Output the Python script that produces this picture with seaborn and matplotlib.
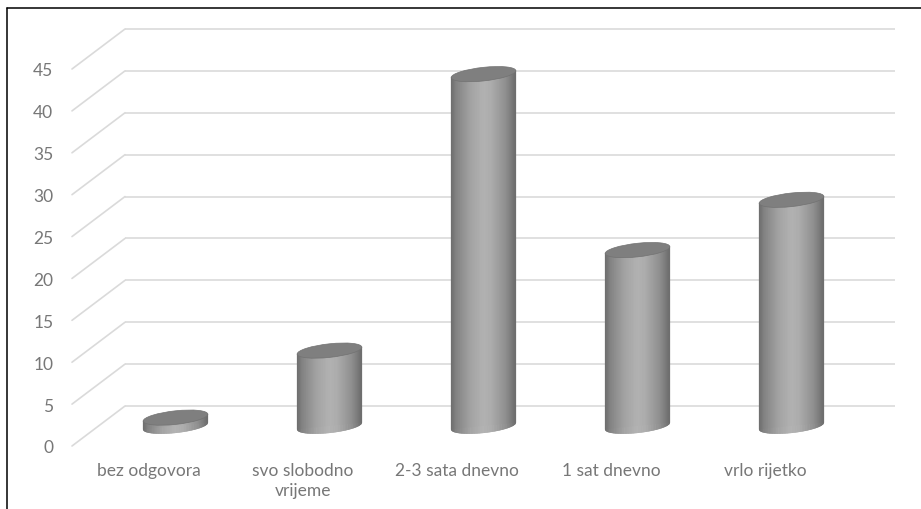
import numpy as np
import pandas as pd
import matplotlib
matplotlib.use("Agg")
import matplotlib.pyplot as plt
import matplotlib.transforms as mtransforms
from matplotlib.patches import Ellipse
from matplotlib.collections import PolyCollection
from matplotlib.lines import Line2D
import seaborn as sns

# ---- data -------------------------------------------------------------
categories = ["bez odgovora", "svo slobodno\nvrijeme", "2-3 sata dnevno",
              "1 sat dnevno", "vrlo rijetko"]
values = [1, 9, 42, 21, 27]
y_ticks = [0, 5, 10, 15, 20, 25, 30, 35, 40, 45]

# ---- figure geometry (pixels) -----------------------------------------
W, H, DPI = 921, 510, 100
WALL_L, WALL_R, WALL_T, WALL_B = 125, 895, 30, 407   # back wall of the 3D box
DEPTH = (-53.0, -40.0)        # back -> front offset of the box floor
TILT = 6.0                    # perspective tilt of the cylinder caps (deg)
CAP_B = 6.8                   # half-height of the cylinder caps (px)
TEXT_COLOR = "#777777"
GRID_COLOR = "#dadada"

sns.set_theme(style="white")
plt.rcParams["font.family"] = ["Lato", "DejaVu Sans"]

fig = plt.figure(figsize=(W / DPI, H / DPI), dpi=DPI)
fig.patch.set_facecolor("white")
ax = fig.add_axes([WALL_L / W, (H - WALL_B) / H,
                   (WALL_R - WALL_L) / W, (WALL_B - WALL_T) / H])
ax.patch.set_alpha(0)

df = pd.DataFrame({"kategorija": categories, "vrijednost": values})
sns.barplot(data=df, x="kategorija", y="vrijednost", ax=ax, width=0.42,
            color="#9a9a9a", saturation=1, zorder=3)

ax.set_xlim(-0.5, len(categories) - 0.5)
ax.set_ylim(0, max(y_ticks))
ax.set_yticks(y_ticks)
ax.set_xlabel("")
ax.set_ylabel("")
for s in ax.spines.values():
    s.set_visible(False)

# back-wall gridlines and the diagonal side-wall lines
ax.hlines(y_ticks, -0.5, len(categories) - 0.5, colors=GRID_COLOR,
          linewidth=1.2, zorder=1, clip_on=False)
for v in y_ticks:
    anchor = mtransforms.ScaledTranslation(-0.5, v, ax.transData)
    ax.add_artist(Line2D([0, DEPTH[0]], [0, DEPTH[1]], color=GRID_COLOR,
                         linewidth=1.2, transform=mtransforms.Affine2D() + anchor,
                         clip_on=False, zorder=1))

# tick labels sit on the front edge of the box
ax.tick_params(axis="y", length=0, pad=13.5, labelsize=12.5, labelcolor=TEXT_COLOR)
ax.tick_params(axis="x", length=0, pad=11.5, labelsize=12.5, labelcolor=TEXT_COLOR)
front = mtransforms.Affine2D().translate(*DEPTH)
for lab in ax.get_yticklabels() + ax.get_xticklabels():
    lab.set_transform(lab.get_transform() + front)
    lab.set_linespacing(1.3)

# ---- cylinders built on the seaborn bars ------------------------------
def shade(t):
    stops = [0.0, 0.08, 0.30, 0.50, 0.62, 0.85, 0.95, 1.0]
    level = [0.42, 0.51, 0.64, 0.70, 0.68, 0.56, 0.47, 0.42]
    g = np.interp(t, stops, level)
    return (g, g, g)

mid = (DEPTH[0] / 2, DEPTH[1] / 2)
for p in ax.patches:
    x0, w, h = p.get_x(), p.get_width(), p.get_height()
    cx = x0 + w / 2
    px0 = ax.transData.transform((x0, 0))
    px1 = ax.transData.transform((x0 + w, h))
    a = (px1[0] - px0[0]) / 2
    hp = px1[1] - px0[1]

    local = (mtransforms.Affine2D().skew_deg(0, TILT).translate(*mid)
             + mtransforms.ScaledTranslation(cx, 0, ax.transData))

    # original bar: same place and tilt, hidden under the shaded body
    cxp = ax.transData.transform((cx, 0))
    p.set_transform(ax.transData + mtransforms.Affine2D()
                    .translate(-cxp[0], -cxp[1]).skew_deg(0, TILT)
                    .translate(cxp[0] + mid[0], cxp[1] + mid[1]))
    p.set_edgecolor("none")
    p.set_clip_on(False)

    n = 90
    xs = np.linspace(-a, a, n + 1)
    bot = -CAP_B * np.sqrt(np.clip(1 - (xs / a) ** 2, 0, 1))
    verts, cols = [], []
    for i in range(n):
        verts.append([(xs[i], bot[i]), (xs[i + 1], bot[i + 1]),
                      (xs[i + 1], hp), (xs[i], hp)])
        cols.append(shade((i + 0.5) / n))
    body = PolyCollection(verts, facecolors=cols, edgecolors=cols,
                          linewidths=0.4, transform=local, zorder=4)
    body.set_clip_on(False)
    ax.add_collection(body, autolim=False)

    cap = Ellipse((0, hp), 2 * a, 2 * CAP_B, facecolor="#7f7f7f",
                  edgecolor="#727272", linewidth=0.5, transform=local, zorder=5)
    cap.set_clip_on(False)
    ax.add_patch(cap)

ax.set_xlim(-0.5, len(categories) - 0.5)
ax.set_ylim(0, max(y_ticks))

# frame of the chart area
fig.add_artist(Line2D([7 / W, 7 / W], [0, 1 - 9 / H], color="black",
                      linewidth=1.1, transform=fig.transFigure))
fig.add_artist(Line2D([7 / W, 1], [1 - 9 / H, 1 - 9 / H], color="black",
                      linewidth=1.1, transform=fig.transFigure))

fig.savefig("out.png", dpi=DPI, facecolor="white")
